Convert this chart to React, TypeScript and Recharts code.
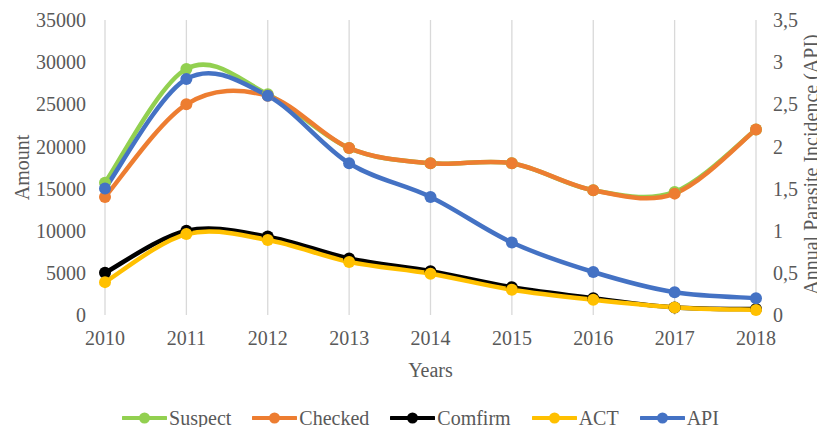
import React from 'react';
import { LineChart, Line, XAxis, YAxis, CartesianGrid } from 'recharts';

const years = ['2010', '2011', '2012', '2013', '2014', '2015', '2016', '2017', '2018'];
const suspect = [15700, 29200, 26200, 19800, 18000, 18000, 14800, 14600, 22000];
const checked = [14000, 25000, 26000, 19800, 18000, 18000, 14800, 14400, 22000];
const comfirm = [5000, 10000, 9300, 6700, 5200, 3300, 2000, 900, 700];
const act = [3900, 9600, 8900, 6300, 4900, 3000, 1800, 900, 600];
const api = [1.5, 2.8, 2.6, 1.8, 1.4, 0.86, 0.51, 0.27, 0.2];

const leftTicks = [0, 5000, 10000, 15000, 20000, 25000, 30000, 35000];
const rightTicks = [0, 0.5, 1, 1.5, 2, 2.5, 3, 3.5];

const data = years.map((y, i) => ({
  year: y,
  Suspect: suspect[i],
  Checked: checked[i],
  Comfirm: comfirm[i],
  ACT: act[i],
  API: api[i],
}));

const series = [
  { key: 'Suspect', color: '#92D050', axis: 'left' },
  { key: 'Checked', color: '#ED7D31', axis: 'left' },
  { key: 'Comfirm', color: '#000000', axis: 'left' },
  { key: 'ACT', color: '#FFC000', axis: 'left' },
  { key: 'API', color: '#4472C4', axis: 'right' },
];

const FONT = '"Liberation Serif", "Times New Roman", serif';
const TXT = '#595959';
const FS = 20;

// Catmull-Rom style smoothing like Excel's smoothed lines
const excelCurve: any = (context: any) => {
  let pts: number[][] = [];
  return {
    areaStart() {},
    areaEnd() {},
    lineStart() {
      pts = [];
    },
    point(x: number, y: number) {
      pts.push([+x, +y]);
    },
    lineEnd() {
      const n = pts.length;
      if (!n) return;
      context.moveTo(pts[0][0], pts[0][1]);
      for (let i = 0; i < n - 1; i++) {
        const p0 = pts[Math.max(i - 1, 0)];
        const p1 = pts[i];
        const p2 = pts[i + 1];
        const p3 = pts[Math.min(i + 2, n - 1)];
        context.bezierCurveTo(
          p1[0] + (p2[0] - p0[0]) / 6,
          p1[1] + (p2[1] - p0[1]) / 6,
          p2[0] - (p3[0] - p1[0]) / 6,
          p2[1] - (p3[1] - p1[1]) / 6,
          p2[0],
          p2[1]
        );
      }
    },
  };
};

const LeftTitle = (props: any) => {
  const { viewBox } = props;
  const cx = viewBox.x + 14;
  const cy = viewBox.y + viewBox.height / 2;
  return (
    <text x={cx} y={cy} transform={`rotate(-90 ${cx} ${cy})`} textAnchor="middle" dominantBaseline="central"
      fill={TXT} fontSize={FS} fontFamily={FONT}>Amount</text>
  );
};

const RightTitle = (props: any) => {
  const { viewBox } = props;
  const cx = viewBox.x + viewBox.width - 14;
  const cy = viewBox.y + viewBox.height / 2 - 3;
  return (
    <text x={cx} y={cy} transform={`rotate(-90 ${cx} ${cy})`} textAnchor="middle" dominantBaseline="central"
      fill={TXT} fontSize={FS} fontFamily={FONT}>Annual Parasite Incidence (API)</text>
  );
};

const BottomTitle = (props: any) => {
  const { viewBox } = props;
  const cx = viewBox.x + viewBox.width / 2;
  const cy = viewBox.y + 55;
  return (
    <text x={cx} y={cy} textAnchor="middle" dominantBaseline="central" fill={TXT} fontSize={FS} fontFamily={FONT}>Years</text>
  );
};

const LegendBar = () => (
  <div style={{ position: 'absolute', left: 8, top: 398, width: 809, height: 24, lineHeight: '24px', display: 'flex', justifyContent: 'center', fontFamily: FONT, fontSize: FS, color: TXT }}>
    {series.map((s, i) => (
      <div key={s.key} style={{ display: 'flex', alignItems: 'center', marginLeft: i === 0 ? 0 : 21 }}>
        <svg width={45} height={16} style={{ marginRight: 2 }}>
          <line x1={1} y1={8} x2={44} y2={8} stroke={s.color} strokeWidth={4} strokeLinecap="round" />
          <circle cx={22.5} cy={8} r={5.5} fill={s.color} />
        </svg>
        <span>{s.key}</span>
      </div>
    ))}
  </div>
);

export default function App() {
  return (
    <div style={{ position: 'relative', width: 817, height: 427, overflow: 'hidden', marginBottom: -8 }}>
      <LineChart width={817} height={419} data={data} margin={{ top: 12, right: 0, bottom: 0, left: 0 }}>
        <CartesianGrid horizontal={false} stroke="#d9d9d9" strokeWidth={1.3} />
        <XAxis dataKey="year" axisLine={false} tickLine={false} tickSize={0} tickMargin={16} height={112}
          tick={{ fill: TXT, fontSize: FS, fontFamily: FONT }} padding={{ left: 0, right: 0 }}
          label={<BottomTitle />} />
        <YAxis yAxisId="left" orientation="left" width={97} domain={[0, 35000]} ticks={leftTicks} interval={0}
          axisLine={false} tickLine={false} tickSize={0} tickMargin={19}
          tick={{ fill: TXT, fontSize: FS, fontFamily: FONT }} label={<LeftTitle />} />
        <YAxis yAxisId="right" orientation="right" width={69} domain={[0, 3.5]} ticks={rightTicks} interval={0}
          axisLine={false} tickLine={false} tickSize={0} tickMargin={17}
          tickFormatter={(v: number) => String(v).replace('.', ',')}
          tick={{ fill: TXT, fontSize: FS, fontFamily: FONT, textAnchor: 'start' }} label={<RightTitle />} />
        {series.map((s) => (
          <Line key={s.key} yAxisId={s.axis} dataKey={s.key} type={excelCurve} stroke={s.color} strokeWidth={4.5}
            dot={{ r: 6, fill: s.color, stroke: s.color, strokeWidth: 0 }} activeDot={false} isAnimationActive={false} />
        ))}
      </LineChart>
      <LegendBar />
    </div>
  );
}
